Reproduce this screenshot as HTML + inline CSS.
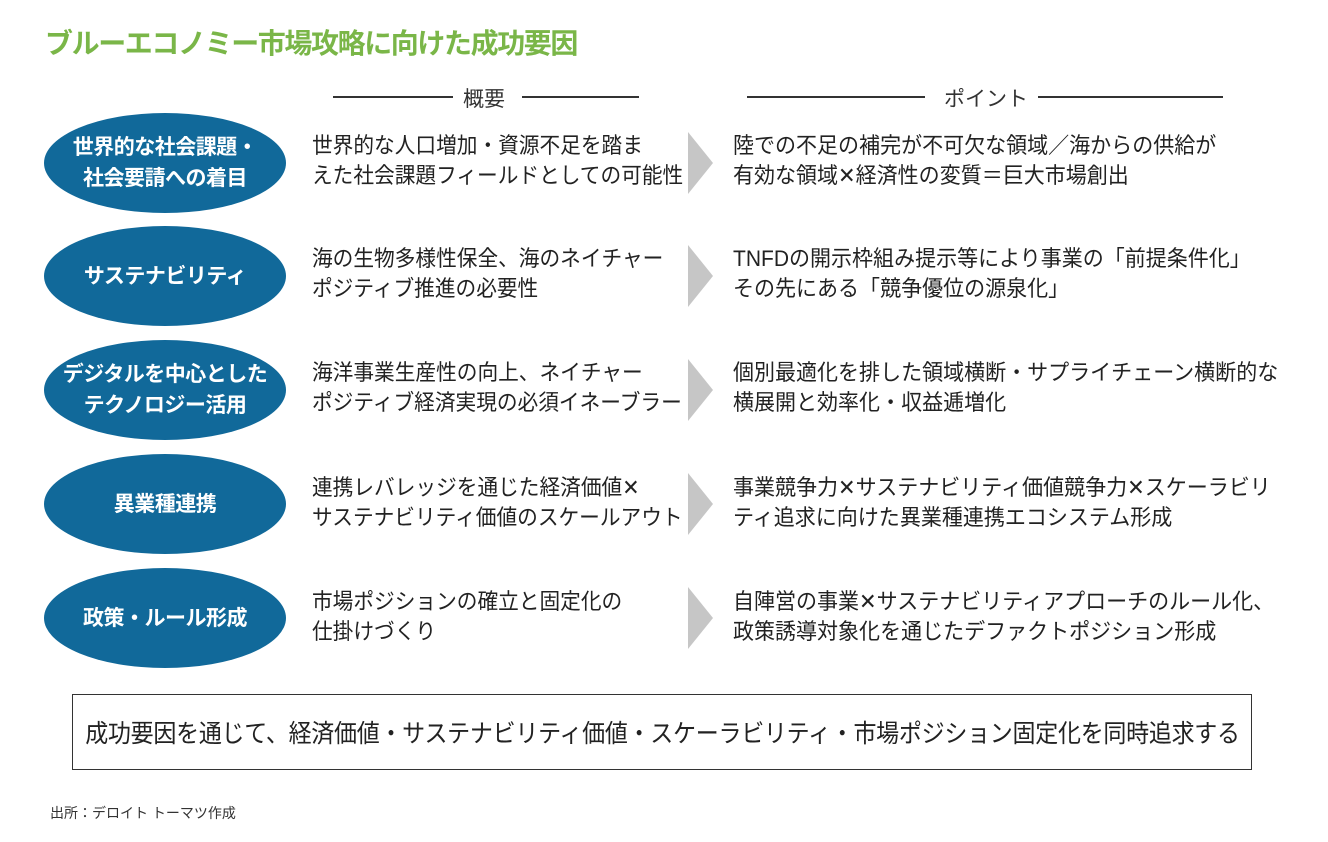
<!DOCTYPE html>
<html><head><meta charset="utf-8"><style>
body{margin:0;width:1328px;height:842px;background:#fff;position:relative;overflow:hidden;font-family:"Liberation Sans","Noto Sans CJK JP",sans-serif;color:#222}
.a{position:absolute;white-space:nowrap}
.title{left:45px;top:22px;font-size:28px;font-weight:bold;color:#7ab648;letter-spacing:-1.4px}
.hd{top:83px;font-size:21px;color:#333}
.ln{position:absolute;height:1.5px;background:#333;top:96px}
.el{position:absolute;left:44px;width:242px;height:100px;border-radius:50%;background:#11699a;color:#fff;font-weight:bold;font-size:21px;line-height:31px;display:flex;align-items:center;justify-content:center;text-align:center;letter-spacing:-0.5px}
.t{position:absolute;font-size:22px;line-height:30px;white-space:nowrap;color:#222;transform-origin:left top}
.o{transform:scaleX(0.94)}
.p{transform:scaleX(0.955)}
.ch{position:absolute;left:688px;width:0;height:0;border-top:31px solid transparent;border-bottom:31px solid transparent;border-left:25px solid #c6c6c6}
</style></head><body>
<div class="a title">ブルーエコノミー市場攻略に向けた成功要因</div>
<div class="ln" style="left:333px;width:120px"></div>
<div class="a hd" style="left:463px">概要</div>
<div class="ln" style="left:522px;width:117px"></div>
<div class="ln" style="left:747px;width:178px"></div>
<div class="a hd" style="left:944px">ポイント</div>
<div class="ln" style="left:1038px;width:185px"></div>

<div class="el" style="top:113px">世界的な社会課題・<br>社会要請への着目</div>
<div class="el" style="top:226px">サステナビリティ</div>
<div class="el" style="top:340px">デジタルを中心とした<br>テクノロジー活用</div>
<div class="el" style="top:454px">異業種連携</div>
<div class="el" style="top:568px">政策・ルール形成</div>

<div class="t o" style="left:312px;top:131px">世界的な人口増加・資源不足を踏ま<br>えた社会課題フィールドとしての可能性</div>
<div class="t o" style="left:312px;top:244px">海の生物多様性保全、海のネイチャー<br>ポジティブ推進の必要性</div>
<div class="t o" style="left:312px;top:358px">海洋事業生産性の向上、ネイチャー<br>ポジティブ経済実現の必須イネーブラー</div>
<div class="t o" style="left:312px;top:473px">連携レバレッジを通じた経済価値✕<br>サステナビリティ価値のスケールアウト</div>
<div class="t o" style="left:312px;top:587px">市場ポジションの確立と固定化の<br>仕掛けづくり</div>

<div class="ch" style="top:132px"></div>
<div class="ch" style="top:245px"></div>
<div class="ch" style="top:359px"></div>
<div class="ch" style="top:473px"></div>
<div class="ch" style="top:587px"></div>

<div class="t p" style="left:733px;top:131px">陸での不足の補完が不可欠な領域／海からの供給が<br>有効な領域✕経済性の変質＝巨大市場創出</div>
<div class="t p" style="left:733px;top:244px">TNFDの開示枠組み提示等により事業の「前提条件化」<br>その先にある「競争優位の源泉化」</div>
<div class="t p" style="left:733px;top:358px">個別最適化を排した領域横断・サプライチェーン横断的な<br>横展開と効率化・収益逓増化</div>
<div class="t p" style="left:733px;top:473px">事業競争力✕サステナビリティ価値競争力✕スケーラビリ<br>ティ追求に向けた異業種連携エコシステム形成</div>
<div class="t p" style="left:733px;top:587px">自陣営の事業✕サステナビリティアプローチのルール化、<br>政策誘導対象化を通じたデファクトポジション形成</div>

<div style="position:absolute;left:72px;top:694px;width:1180px;height:76px;border:1.5px solid #333;box-sizing:border-box;display:flex;align-items:center;justify-content:center;white-space:nowrap"><span style="display:inline-block;font-size:25px;transform:scaleX(0.92);letter-spacing:-0.3px">成功要因を通じて、経済価値・サステナビリティ価値・スケーラビリティ・市場ポジション固定化を同時追求する</span></div>
<div class="a" style="left:50px;top:803px;font-size:14px;color:#333">出所：デロイト トーマツ作成</div>
</body></html>
